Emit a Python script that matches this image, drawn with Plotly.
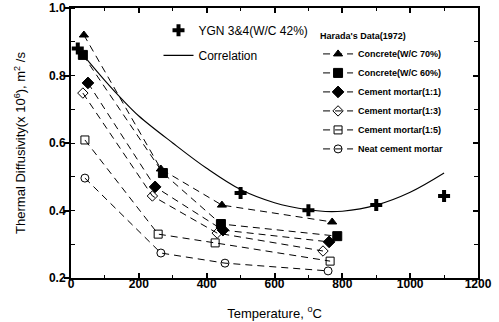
import plotly.graph_objects as go

# YGN 3&4 measured data
ygn_T = [20, 500, 700, 900, 1100]
ygn_D = [0.88, 0.452, 0.401, 0.416, 0.443]

# Correlation curve
corr_T = [35, 100, 150, 200, 300, 400, 500, 600, 700, 750, 800, 900, 1000, 1100]
corr_D = [0.862, 0.785, 0.73, 0.68, 0.60, 0.525, 0.462, 0.423, 0.402, 0.397, 0.398, 0.416, 0.454, 0.511]

# Harada's data (1972)
harada_names = ["Concrete(W/C 70%)", "Concrete(W/C 60%)", "Cement mortar(1:1)",
                "Cement mortar(1:3)", "Cement mortar(1:5)", "Neat cement mortar"]
harada_T = [
    [38, 265, 445, 770],
    [35, 271, 442, 785],
    [50, 248, 448, 761],
    [35, 240, 431, 743],
    [41, 257, 425, 764],
    [41, 265, 454, 758],
]
harada_D = [
    [0.92, 0.523, 0.416, 0.366],
    [0.861, 0.511, 0.360, 0.324],
    [0.778, 0.470, 0.342, 0.307],
    [0.748, 0.443, 0.333, 0.280],
    [0.609, 0.330, 0.304, 0.250],
    [0.496, 0.274, 0.244, 0.221],
]
harada_symbols = ["triangle-up", "square", "diamond", "diamond-open", "square-open", "circle-open"]
harada_sizes = [8, 9, 9, 8, 8, 8]

x_ticks = [0, 200, 400, 600, 800, 1000, 1200]
y_ticks = [0.2, 0.4, 0.6, 0.8, 1.0]

FONT = "Arial, Liberation Sans, sans-serif"

fig = go.Figure()

fig.add_trace(go.Scatter(
    x=ygn_T, y=ygn_D, mode="markers", name="YGN 3&4(W/C 42%)",
    marker=dict(symbol="cross", size=10, color="black"),
    legend="legend", legendgroup="ygn",
))
fig.add_trace(go.Scatter(
    x=corr_T, y=corr_D, mode="lines", name="Correlation",
    line=dict(color="black", width=1.1, shape="spline"),
    legend="legend", legendgroup="corr",
))

for name, T, D, sym, sz in zip(harada_names, harada_T, harada_D, harada_symbols, harada_sizes):
    fig.add_trace(go.Scatter(
        x=T, y=D, mode="lines+markers", name=name,
        line=dict(color="black", width=1, dash="7px,5px"),
        marker=dict(symbol=sym, size=sz, color="black", line=dict(color="black", width=1)),
        legend="legend2",
    ))

# empty helper trace so the right-hand tick axis is drawn
fig.add_trace(go.Scatter(x=[], y=[], yaxis="y2", showlegend=False, hoverinfo="skip"))

fig.update_layout(
    width=499, height=322,
    margin=dict(l=71, r=21, t=8, b=44, autoexpand=False),
    paper_bgcolor="white", plot_bgcolor="white",
    font=dict(family=FONT, color="black"),
    legend=dict(
        x=0.215, y=0.971, xanchor="left", yanchor="top",
        bgcolor="rgba(0,0,0,0)", borderwidth=0,
        font=dict(size=12, family=FONT, color="black"),
        itemwidth=30, tracegroupgap=6,
    ),
    legend2=dict(
        x=0.607, y=0.927, xanchor="left", yanchor="top",
        bgcolor="rgba(0,0,0,0)", borderwidth=0,
        title=dict(text="Harada's Data(1972)", font=dict(size=9, family=FONT, weight="bold", color="black")),
        font=dict(size=9, family=FONT, weight="bold", color="black"),
        itemwidth=30,
    ),
    xaxis=dict(
        range=[0, 1200], tickvals=x_ticks, ticktext=[str(v) for v in x_ticks],
        ticks="inside", ticklen=5, tickwidth=1.5, tickcolor="black",
        minor=dict(dtick=100, ticks="inside", ticklen=3, tickcolor="black", tickwidth=1),
        showline=True, linewidth=2, linecolor="black", mirror="ticks",
        showgrid=False, zeroline=False, automargin=False,
        tickfont=dict(size=12, family=FONT, weight="bold", color="black"),
        ticklabelstandoff=-6,
        title=dict(text="Temperature, <sup>o</sup>C", font=dict(size=13, family=FONT, color="black"), standoff=18),
    ),
    yaxis=dict(
        range=[0.2, 1.0], tickvals=y_ticks, ticktext=["%.1f" % v for v in y_ticks],
        ticks="outside", ticklen=5, tickwidth=1.5, tickcolor="black",
        minor=dict(dtick=0.1, ticks="inside", ticklen=4, tickcolor="black", tickwidth=1),
        showline=True, linewidth=2, linecolor="black", mirror=True,
        showgrid=False, zeroline=False, automargin=False,
        tickfont=dict(size=12, family=FONT, weight="bold", color="black"),
        ticklabelstandoff=-4,
        title=dict(text="Thermal Diffusivity(x 10<sup>6</sup>), m<sup>2</sup> /s",
                   font=dict(size=13, family=FONT, color="black"), standoff=20),
    ),
    yaxis2=dict(
        overlaying="y", side="right", range=[0.2, 1.0], tickvals=y_ticks,
        showticklabels=False, ticks="inside", ticklen=5, tickwidth=1.5, tickcolor="black",
        minor=dict(dtick=0.1, ticks="inside", ticklen=4, tickcolor="black", tickwidth=1),
        showline=False, showgrid=False, zeroline=False, automargin=False,
    ),
)

fig.write_html("out.html")
